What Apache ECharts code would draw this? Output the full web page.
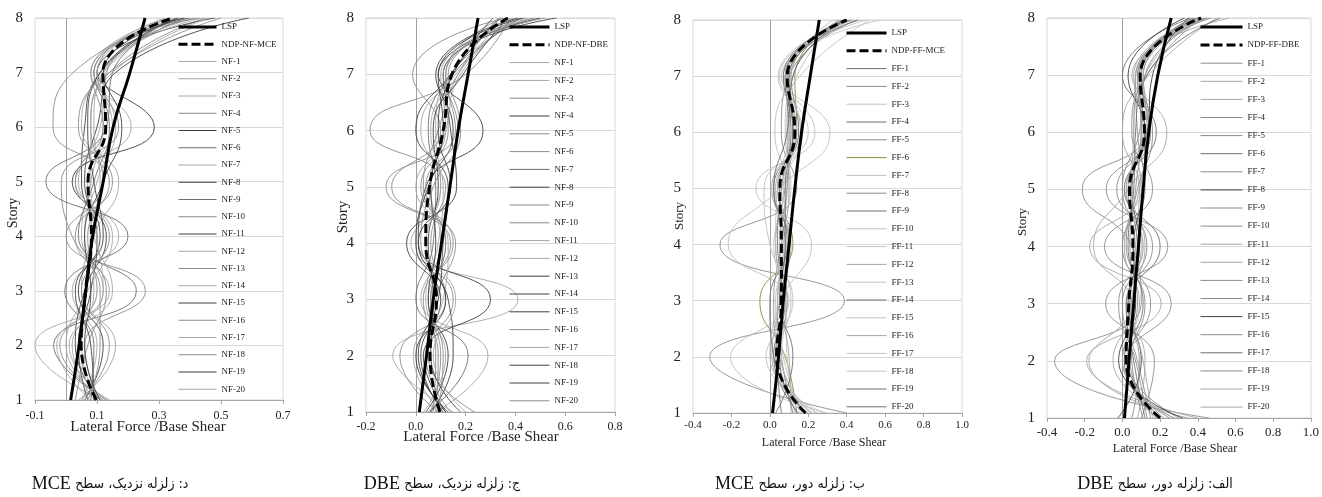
<!DOCTYPE html>
<html>
<head>
<meta charset="utf-8">
<script src="https://cdn.jsdelivr.net/npm/echarts@6/dist/echarts.min.js"></script>
<style>
  html, body { margin: 0; padding: 0; background: #fff; }
  #chart { width: 1322px; height: 497px; }
</style>
</head>
<body>
<div id="chart"></div>
<script>
const stories = [1, 2, 3, 4, 5, 6, 7, 8];

// d: near field, MCE
const nfMceLsp = [0.015, 0.042, 0.064, 0.086, 0.12, 0.152, 0.206, 0.255];
const nfMceMean = [0.098, 0.049, 0.063, 0.082, 0.071, 0.128, 0.119, 0.345];
const nfMceRecords = [
  [0.09, 0.02, 0.12, 0.06, 0.10, 0.16, 0.10, 0.38],
  [0.12, -0.10, 0.14, 0.05, 0.08, 0.12, 0.13, 0.42],
  [0.05, 0.10, 0.02, 0.17, 0.03, 0.21, 0.08, 0.33],
  [0.10, 0.06, 0.256, 0.00, 0.12, 0.08, 0.14, 0.45],
  [0.07, 0.04, 0.08, 0.10, 0.05, 0.06, 0.11, 0.36],
  [0.13, -0.04, 0.227, 0.04, 0.09, 0.14, 0.09, 0.40],
  [0.04, 0.16, 0.05, 0.09, 0.17, 0.05, 0.12, 0.35],
  [0.11, 0.03, 0.06, 0.13, 0.02, 0.285, 0.10, 0.48],
  [0.08, 0.09, -0.004, 0.20, -0.065, 0.13, 0.15, 0.39],
  [0.14, -0.02, 0.10, 0.07, 0.14, -0.042, 0.023, 0.34],
  [0.06, 0.12, 0.04, 0.11, 0.06, 0.10, 0.16, 0.59],
  [0.10, 0.05, 0.09, 0.08, 0.11, 0.09, 0.12, 0.44],
  [0.03, 0.07, 0.13, 0.02, -0.015, 0.17, 0.09, 0.37],
  [0.12, 0.00, 0.07, 0.15, 0.04, 0.11, 0.13, 0.41],
  [0.09, 0.08, 0.03, 0.12, 0.09, 0.07, 0.11, 0.36],
  [0.07, 0.11, 0.11, 0.03, 0.15, 0.04, 0.14, 0.50],
  [0.13, 0.01, 0.15, 0.09, 0.07, 0.15, 0.10, 0.32],
  [0.05, 0.14, 0.05, 0.14, 0.03, 0.12, 0.08, 0.43],
  [0.11, 0.06, 0.08, 0.06, 0.12, 0.18, 0.12, 0.38],
  [0.08, -0.03, 0.12, 0.10, 0.08, 0.08, 0.15, 0.46]
];

// c: near field, DBE
const nfDbeLsp = [0.014, 0.043, 0.07, 0.103, 0.137, 0.17, 0.21, 0.25];
const nfDbeMean = [0.097, 0.057, 0.083, 0.04, 0.055, 0.11, 0.145, 0.37];
const nfDbeRecords = [
  [0.08, 0.29, 0.02, 0.10, 0.06, 0.12, 0.18, 0.40],
  [0.15, -0.093, 0.41, -0.02, 0.10, 0.08, 0.14, 0.45],
  [0.06, 0.10, 0.05, 0.14, -0.12, 0.16, 0.12, 0.35],
  [0.12, 0.03, 0.30, 0.01, 0.04, 0.27, 0.09, 0.50],
  [0.09, -0.064, 0.12, 0.06, 0.12, -0.184, 0.20, 0.38],
  [0.237, 0.05, 0.08, 0.16, -0.097, 0.10, -0.013, 0.36],
  [0.05, 0.21, 0.00, 0.07, 0.08, 0.05, 0.15, 0.42],
  [0.11, 0.02, 0.10, -0.037, 0.164, 0.14, 0.11, 0.565],
  [0.07, 0.08, 0.06, 0.12, 0.03, 0.09, 0.17, 0.33],
  [0.14, 0.04, 0.15, 0.02, 0.07, 0.18, 0.13, 0.44],
  [0.03, 0.12, 0.04, 0.09, 0.11, 0.02, 0.16, 0.39],
  [0.10, -0.01, 0.11, 0.13, 0.00, 0.12, 0.10, 0.47],
  [0.18, 0.06, 0.07, 0.05, 0.09, 0.07, 0.19, 0.37],
  [0.06, 0.15, 0.13, 0.00, 0.05, 0.15, 0.08, 0.41],
  [0.12, 0.01, 0.09, 0.11, 0.13, 0.00, 0.14, 0.34],
  [0.08, 0.09, 0.03, 0.15, 0.02, 0.13, 0.12, 0.48],
  [0.20, 0.07, 0.16, 0.04, 0.10, 0.06, 0.17, 0.36],
  [0.04, 0.13, 0.05, 0.08, 0.06, 0.11, 0.09, 0.43],
  [0.13, 0.00, 0.12, 0.01, 0.14, 0.09, 0.15, 0.31],
  [0.09, 0.11, 0.06, 0.12, 0.04, 0.17, 0.11, 0.52]
];

// b: far field, MCE
const ffMceLsp = [0.014, 0.045, 0.07, 0.10, 0.13, 0.165, 0.21, 0.257];
const ffMceMean = [0.186, 0.035, 0.06, 0.06, 0.052, 0.13, 0.09, 0.40];
const ffMceRecords = [
  [0.15, 0.02, 0.08, 0.05, 0.09, 0.10, 0.08, 0.42],
  [0.40, -0.313, 0.388, -0.26, 0.14, 0.06, 0.10, 0.45],
  [0.30, -0.205, 0.10, -0.217, 0.05, 0.313, 0.06, 0.50],
  [0.12, 0.06, 0.04, 0.08, 0.02, 0.15, 0.11, 0.38],
  [0.22, 0.03, 0.07, 0.03, 0.08, 0.12, 0.09, 0.40],
  [0.14, 0.08, -0.052, 0.12, 0.04, 0.14, 0.13, 0.36],
  [0.25, 0.00, 0.06, 0.217, -0.073, 0.235, 0.07, 0.574],
  [0.18, 0.05, 0.02, 0.06, 0.10, 0.09, 0.12, 0.41],
  [0.06, 0.04, 0.09, 0.04, 0.06, 0.11, 0.08, 0.39],
  [0.28, -0.02, 0.12, 0.00, -0.03, 0.20, 0.05, 0.47],
  [0.16, 0.07, 0.03, 0.10, 0.07, 0.13, 0.10, 0.37],
  [0.20, 0.01, 0.05, 0.07, 0.03, 0.16, 0.09, 0.43],
  [0.13, 0.09, 0.08, 0.02, 0.11, 0.08, 0.14, 0.35],
  [0.19, 0.02, 0.00, 0.09, 0.05, 0.12, 0.07, 0.40],
  [0.24, 0.04, 0.11, 0.05, 0.09, 0.026, 0.156, 0.52],
  [0.11, 0.10, 0.06, 0.11, 0.01, 0.14, 0.08, 0.38],
  [0.17, 0.03, 0.04, 0.06, 0.07, 0.17, 0.043, 0.44],
  [0.21, 0.06, 0.09, 0.03, 0.04, 0.10, 0.11, 0.33],
  [0.03, 0.12, 0.05, 0.08, 0.08, 0.12, 0.10, 0.46],
  [0.14, 0.05, 0.07, 0.10, 0.02, 0.09, 0.12, 0.39]
];

// a: far field, DBE
const ffDbeLsp = [0.011, 0.035, 0.06, 0.085, 0.11, 0.14, 0.188, 0.259];
const ffDbeMean = [0.20, 0.02, 0.034, 0.056, 0.038, 0.117, 0.094, 0.417];
const ffDbeRecords = [
  [0.46, -0.36, 0.10, 0.05, -0.213, 0.12, 0.08, 0.45],
  [0.40, -0.19, 0.206, -0.174, 0.10, 0.06, 0.12, 0.40],
  [0.35, -0.178, 0.05, -0.153, 0.03, 0.236, 0.05, 0.567],
  [0.10, 0.17, -0.089, 0.241, -0.086, 0.14, 0.10, 0.38],
  [0.30, 0.02, 0.259, -0.095, 0.16, 0.05, 0.13, 0.42],
  [0.12, 0.06, 0.02, 0.20, 0.01, 0.18, 0.00, 0.36],
  [0.25, 0.00, 0.08, 0.04, 0.07, 0.10, 0.09, 0.47],
  [-0.024, 0.10, 0.03, 0.09, 0.05, 0.13, 0.16, 0.35],
  [0.20, 0.04, 0.12, 0.00, 0.12, 0.08, 0.07, 0.43],
  [0.15, 0.08, 0.00, 0.13, 0.02, 0.15, 0.11, 0.39],
  [0.28, -0.05, 0.06, 0.07, 0.09, 0.00, 0.14, 0.50],
  [0.08, 0.12, 0.04, 0.10, 0.04, 0.11, 0.06, 0.41],
  [0.22, 0.03, 0.15, 0.02, 0.08, 0.16, 0.09, 0.37],
  [0.13, 0.07, -0.02, 0.11, 0.00, 0.09, 0.12, 0.44],
  [0.32, -0.02, 0.07, 0.06, 0.11, 0.12, 0.03, 0.33],
  [0.05, 0.09, 0.02, 0.16, -0.03, 0.14, 0.10, 0.40],
  [0.18, 0.01, 0.11, 0.03, 0.06, 0.07, 0.13, 0.52],
  [0.11, 0.05, 0.04, 0.08, 0.03, 0.10, 0.08, 0.38],
  [0.27, 0.00, 0.09, 0.01, 0.09, 0.13, 0.11, 0.46],
  [0.16, 0.11, 0.05, 0.12, 0.05, 0.06, 0.07, 0.42]
];

const xTitle = 'Lateral Force /Base Shear';
const yTitle = 'Story';
const captionLevels = ['MCE', 'DBE', 'MCE', 'DBE'];
const captionTexts = [
  'د: زلزله نزدیک، سطح',
  'ج: زلزله نزدیک، سطح',
  'ب: زلزله دور، سطح',
  'الف: زلزله دور، سطح'
];

const serif = '"Liberation Serif", "Times New Roman", serif';
const arabic = '"DejaVu Sans Condensed", "DejaVu Sans", sans-serif';
const D = '#404040', M = '#6e6e6e', G = '#8c8c8c', L = '#a6a6a6', V = '#bfbfbf';

const panels = [
  {
    prefix: 'NF', meanName: 'NDP-NF-MCE', lsp: nfMceLsp, mean: nfMceMean, records: nfMceRecords,
    colors: [L, L, L, G, D, M, L, D, M, G, D, L, G, L, D, G, L, G, D, L],
    grid: { left: 35, top: 18, width: 248, height: 382 }, xMin: -0.1, xMax: 0.7,
    xLabel: { fontSize: 12, margin: 10 },
    legend: { left: 177, top: 22, itemWidth: 38, itemGap: 7.25 },
    xName: { x: 148, y: 427, size: 15 }, yName: { x: 13, y: 213, size: 14 },
    caption: { x: 110, y: 484 }
  },
  {
    prefix: 'NF', meanName: 'NDP-NF-DBE', lsp: nfDbeLsp, mean: nfDbeMean, records: nfDbeRecords,
    colors: [L, L, G, D, G, G, M, D, G, G, L, L, D, D, D, G, L, D, D, G],
    grid: { left: 366, top: 18, width: 249, height: 394 }, xMin: -0.2, xMax: 0.8,
    xLabel: { fontSize: 12, margin: 9 },
    legend: { left: 508, top: 22, itemWidth: 40, itemGap: 7.8 },
    xName: { x: 481, y: 437, size: 15 }, yName: { x: 343, y: 217, size: 15 },
    caption: { x: 442, y: 484 }
  },
  {
    prefix: 'FF', meanName: 'NDP-FF-MCE', lsp: ffMceLsp, mean: ffMceMean, records: ffMceRecords,
    colors: [M, G, V, M, G, '#77933c', V, G, M, V, V, L, V, M, V, L, V, V, M, M],
    grid: { left: 693, top: 20, width: 269, height: 393 }, xMin: -0.4, xMax: 1.0,
    xLabel: { fontSize: 11, margin: 7 },
    legend: { left: 845, top: 28, itemWidth: 40, itemGap: 7.8 },
    xName: { x: 824, y: 443, size: 12 }, yName: { x: 680, y: 216, size: 13 },
    caption: { x: 790, y: 484 }
  },
  {
    prefix: 'FF', meanName: 'NDP-FF-DBE', lsp: ffDbeLsp, mean: ffDbeMean, records: ffDbeRecords,
    colors: [G, L, L, G, G, M, G, D, G, G, L, L, G, G, D, G, M, G, L, L],
    grid: { left: 1047, top: 18, width: 265, height: 400 }, xMin: -0.4, xMax: 1.0,
    xLabel: { fontSize: 13, margin: 8 },
    legend: { left: 1199, top: 22, itemWidth: 42, itemGap: 8.1 },
    xName: { x: 1175, y: 449, size: 12 }, yName: { x: 1023, y: 222, size: 13 },
    caption: { x: 1155, y: 484 }
  }
];

const toPoints = xs => xs.map((x, k) => [x, stories[k]]);

const grids = [], xAxes = [], yAxes = [], series = [], legends = [], graphics = [];

panels.forEach((p, i) => {
  grids.push(Object.assign({ show: true, borderColor: '#d9d9d9', borderWidth: 1 }, p.grid));

  xAxes.push({
    gridIndex: i, type: 'value', min: p.xMin, max: p.xMax, interval: 0.2,
    axisLine: { show: true, onZero: false, lineStyle: { color: '#a6a6a6', width: 1 } },
    axisTick: { show: true, length: 4, lineStyle: { color: '#a6a6a6' } },
    splitLine: { show: false },
    axisLabel: {
      fontFamily: serif, fontSize: p.xLabel.fontSize, margin: p.xLabel.margin, color: '#222',
      formatter: v => v.toFixed(1)
    }
  });

  yAxes.push({
    gridIndex: i, type: 'value', min: 1, max: 8, interval: 1,
    axisLine: { show: false }, axisTick: { show: false },
    splitLine: { show: true, lineStyle: { color: '#d9d9d9', width: 1 } },
    axisLabel: { fontFamily: serif, fontSize: 15, margin: 12, color: '#222' }
  });

  const legendData = [
    { name: 'LSP', lineStyle: { color: '#000', width: 3 } },
    { name: p.meanName, lineStyle: { color: '#000', width: 3, type: [9, 4] } }
  ];

  p.records.forEach((rec, k) => {
    const name = p.prefix + '-' + (k + 1);
    const color = p.colors[k];
    legendData.push({ name: name, lineStyle: { color: color, width: 1 } });
    const s = {
      type: 'line', name: name, xAxisIndex: i, yAxisIndex: i,
      data: toPoints(rec), smooth: true, symbol: 'none', silent: true,
      lineStyle: { color: color, width: 0.9 }, itemStyle: { color: color },
      emphasis: { disabled: true }
    };
    if (k === 0) {
      s.markLine = {
        silent: true, symbol: ['none', 'none'], label: { show: false }, z: 1,
        lineStyle: { color: '#a0a0a0', width: 1, type: 'solid' },
        data: [{ xAxis: 0 }]
      };
    }
    series.push(s);
  });

  series.push({
    type: 'line', name: 'LSP', xAxisIndex: i, yAxisIndex: i,
    data: toPoints(p.lsp), smooth: true, symbol: 'none', silent: true,
    lineStyle: { color: '#000', width: 3 }, itemStyle: { color: '#000' },
    emphasis: { disabled: true }
  });
  series.push({
    type: 'line', name: p.meanName, xAxisIndex: i, yAxisIndex: i,
    data: toPoints(p.mean), smooth: true, symbol: 'none', silent: true,
    lineStyle: { color: '#000', width: 3, type: [9, 4] }, itemStyle: { color: '#000' },
    emphasis: { disabled: true }
  });

  legends.push({
    orient: 'vertical', left: p.legend.left, top: p.legend.top, padding: 0,
    itemWidth: p.legend.itemWidth, itemHeight: 4, itemGap: p.legend.itemGap,
    selectedMode: false,
    itemStyle: { opacity: 0 },
    textStyle: { fontFamily: serif, fontSize: 9, lineHeight: 10, color: '#222' },
    data: legendData
  });

  graphics.push({
    type: 'text', x: p.xName.x, y: p.xName.y, silent: true,
    style: {
      text: xTitle, font: p.xName.size + 'px ' + serif, fill: '#222',
      align: 'center', verticalAlign: 'middle', textAlign: 'center', textVerticalAlign: 'middle'
    }
  });
  graphics.push({
    type: 'text', x: p.yName.x, y: p.yName.y, rotation: Math.PI / 2, silent: true,
    style: {
      text: yTitle, font: p.yName.size + 'px ' + serif, fill: '#222',
      align: 'center', verticalAlign: 'middle', textAlign: 'center', textVerticalAlign: 'middle'
    }
  });
  graphics.push({
    type: 'text', x: p.caption.x, y: p.caption.y, silent: true,
    style: {
      text: '{a|' + captionLevels[i] + '} {b|\u202B' + captionTexts[i] + '\u202C}',
      font: '18px ' + serif, fill: '#111',
      align: 'center', verticalAlign: 'middle', textAlign: 'center', textVerticalAlign: 'middle',
      rich: {
        a: { fontFamily: serif, fontSize: 18, fill: '#111' },
        b: { fontFamily: arabic, fontSize: 14, fill: '#111' }
      }
    }
  });
});

const chart = echarts.init(document.getElementById('chart'), null, { renderer: 'canvas' });
chart.setOption({
  animation: false,
  backgroundColor: '#fff',
  tooltip: { show: false },
  grid: grids,
  xAxis: xAxes,
  yAxis: yAxes,
  legend: legends,
  series: series,
  graphic: graphics
});
</script>
</body>
</html>
